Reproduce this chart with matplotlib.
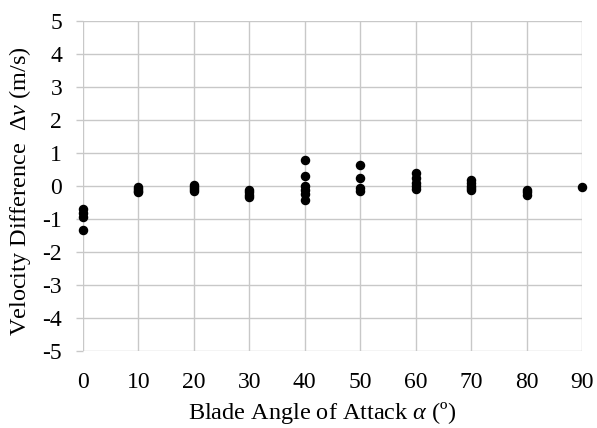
import numpy as np
import matplotlib
matplotlib.use("Agg")
import matplotlib.pyplot as plt

# blade angle of attack (deg) and measured velocity difference (m/s)
angulo = [0, 0, 0, 0,
          10, 10, 10, 10,
          20, 20, 20, 20,
          30, 30, 30, 30,
          40, 40, 40, 40, 40, 40,
          50, 50, 50, 50,
          60, 60, 60, 60, 60,
          70, 70, 70, 70, 70,
          80, 80, 80,
          90]
delta_v = [-0.68, -0.8, -0.92, -1.33,
           -0.03, -0.08, -0.13, -0.18,
           0.05, -0.02, -0.08, -0.15,
           -0.1, -0.18, -0.25, -0.33,
           0.8, 0.32, 0.0, -0.12, -0.24, -0.4,
           0.65, 0.24, -0.06, -0.14,
           0.42, 0.24, 0.1, 0.0, -0.08,
           0.18, 0.1, 0.02, -0.04, -0.1,
           -0.12, -0.18, -0.25,
           -0.03]

xticks = [0, 10, 20, 30, 40, 50, 60, 70, 80, 90]
yticks = [-5, -4, -3, -2, -1, 0, 1, 2, 3, 4, 5]

plt.rcParams['font.family'] = ['Liberation Serif', 'DejaVu Serif']
plt.rcParams['mathtext.fontset'] = 'custom'
plt.rcParams['mathtext.rm'] = 'Liberation Serif'
plt.rcParams['mathtext.it'] = 'Liberation Serif:italic'
plt.rcParams['axes.unicode_minus'] = False

fig = plt.figure(figsize=(5.97, 4.28), dpi=100)
ax = fig.add_axes([0.139, 0.179, 0.836, 0.771])

ax.scatter(angulo, delta_v, s=34, color="black", zorder=3, clip_on=False)

ax.set_xlim(0, 90)
ax.set_ylim(-5, 5)
ax.set_xticks(xticks)
ax.set_yticks(yticks)
ax.grid(True, color="#c8c8c8", linewidth=1.0)
ax.set_axisbelow(True)
for s in ax.spines.values():
    s.set_visible(False)

ax.tick_params(axis="y", length=5, color="#c8c8c8", width=1.0, pad=10, labelsize=17)
ax.tick_params(axis="x", length=0, pad=15, labelsize=17)

ax.set_ylabel(r"Velocity Difference  $\Delta v$ (m/s)", fontsize=17.5)
ax.yaxis.set_label_coords(-0.10, 0.485)
ax.set_xlabel(r"Blade Angle of Attack $\alpha$ (º)", fontsize=17.5)
ax.xaxis.set_label_coords(0.479, -0.148)

plt.savefig("out.png", dpi=100)
